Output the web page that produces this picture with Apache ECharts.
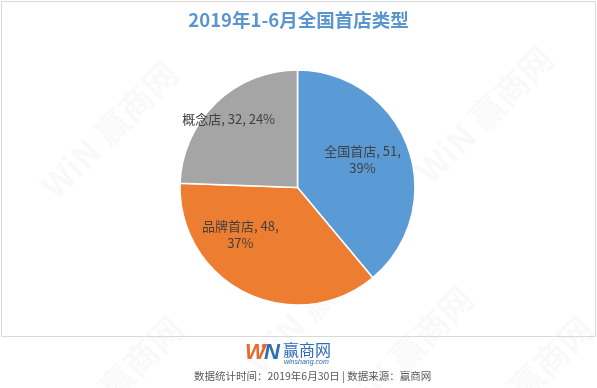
<!DOCTYPE html>
<html>
<head>
<meta charset="utf-8">
<script src="https://cdn.jsdelivr.net/npm/echarts@6/dist/echarts.min.js"></script>
<style>
html,body{margin:0;padding:0;background:#fff;}
#c{width:597px;height:388px;}
</style>
</head>
<body>
<div id="c"></div>
<script>
const titleText = '2019年1-6月全国首店类型';
const categories = ['全国首店', '品牌首店', '概念店'];
const values = [51, 48, 32];
const colors = ['#5B9BD5', '#ED7D31', '#A5A5A5'];
const labelBreaks = [true, true, false];
const labelOffsets = [[7, -7], [-30, -8], [-26, -24]];
const footerText = '数据统计时间：2019年6月30日 | 数据来源：赢商网';

const chart = echarts.init(document.getElementById('c'), null, {renderer: 'canvas'});
const font = '"Microsoft YaHei", "Noto Sans CJK SC", sans-serif';

const wm = [];
const wmPos = [[95, 75], [470, 60], [100, 330], [510, 330], [300, 250], [390, 300]];
wmPos.forEach(p => {
  wm.push({
    type: 'text', left: p[0] - 60, top: p[1] - 20, rotation: Math.PI / 4, z: -1, silent: true,
    style: {text: 'WiN 赢商网', fill: 'rgba(0,0,0,0.025)', font: 'bold 34px ' + font}
  });
});

chart.setOption({
  backgroundColor: '#fff',
  animation: false,
  title: {
    text: titleText, left: 'center', top: 6,
    textStyle: {color: '#5B95D0', fontSize: 18.5, fontWeight: 'bold', fontFamily: font}
  },
  graphic: wm.concat([
    {type: 'rect', shape: {x: 1.5, y: 1.5, width: 594, height: 335}, style: {fill: 'none', stroke: '#d9d9d9', lineWidth: 1}, silent: true},
    {type: 'text', left: 245, top: 342, style: {text: 'W', fill: '#E8692A', font: 'italic bold 22px Arial, sans-serif'}},
    {type: 'text', left: 264, top: 342, style: {text: 'N', fill: '#2F6DB5', font: 'italic bold 22px Arial, sans-serif'}},
    {type: 'circle', shape: {cx: 264, cy: 346, r: 2.2}, style: {fill: '#E8692A'}},
    {type: 'text', left: 283, top: 342, style: {text: '赢商网', fill: '#2F6DB5', font: '16px ' + font}},
    {type: 'text', left: 284, top: 359, style: {text: 'winshang.com', fill: '#2F6DB5', font: 'italic 7px Arial, sans-serif'}},
    {type: 'text', left: 194, top: 371, style: {text: footerText, fill: '#595959', font: '10.5px ' + font}}
  ]),
  series: [{
    type: 'pie',
    center: [297.5, 187.5],
    radius: 117.5,
    startAngle: 90,
    clockwise: true,
    avoidLabelOverlap: false,
    itemStyle: {borderColor: '#fff', borderWidth: 1.5},
    label: {
      show: true, position: 'inside',
      color: '#404040', fontSize: 13, lineHeight: 17, fontFamily: font,
      formatter: p => p.name + ', ' + p.value + ',' + (labelBreaks[p.dataIndex] ? '\n' : ' ') + p.percent.toFixed(0) + '%'
    },
    labelLayout: p => ({dx: labelOffsets[p.dataIndex][0], dy: labelOffsets[p.dataIndex][1]}),
    labelLine: {show: false},
    data: categories.map((c, i) => ({name: c, value: values[i], itemStyle: {color: colors[i]}}))
  }]
});
</script>
</body>
</html>
